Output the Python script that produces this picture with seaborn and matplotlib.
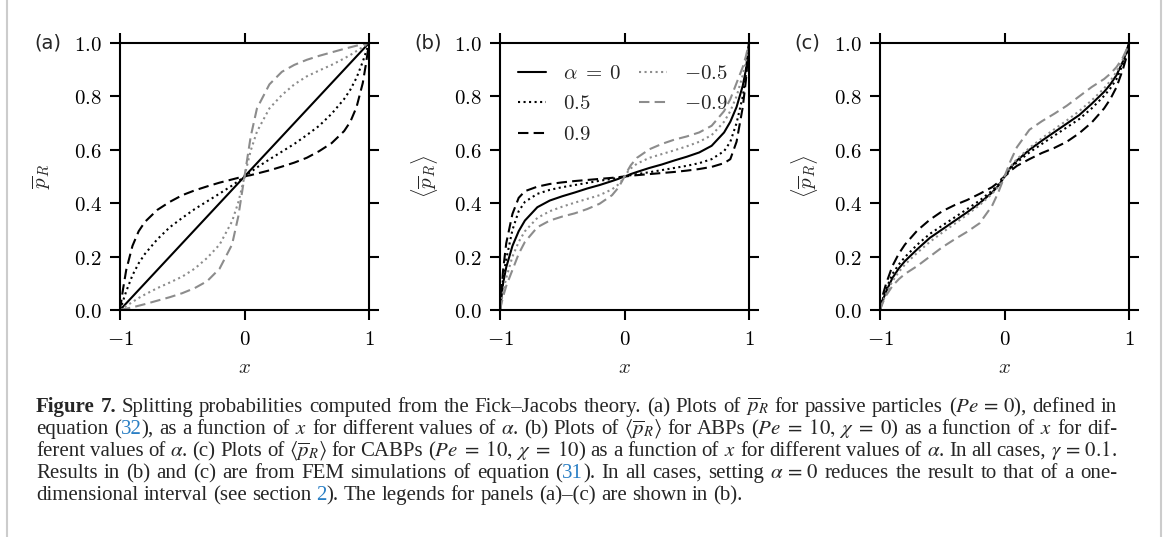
import re

import pandas as pd
import seaborn as sns
import matplotlib.pyplot as plt
from matplotlib.lines import Line2D

W, H, DPI = 1167, 537, 100
GREY = '#8c8c8c'
LINK_BLUE = '#2a7fc4'
CAP_SIZE = 15

# sample points along the channel
X_GRID = [-1, -0.975, -0.95, -0.9, -0.85, -0.8, -0.7, -0.6, -0.5, -0.4, -0.3,
          -0.2, -0.1, -0.05, -0.025, 0, 0.025, 0.05, 0.1, 0.2, 0.3, 0.4, 0.5,
          0.6, 0.7, 0.8, 0.85, 0.9, 0.95, 0.975, 1]

ALPHAS = [0, 0.5, 0.9, -0.5, -0.9]
LEGEND_LABELS = [r'$\alpha\;=\;0$', '$0.5$', '$0.9$', '$-0.5$', '$-0.9$']
LINE_COLORS = ['black', 'black', 'black', GREY, GREY]
LINE_STYLES = ['-', ':', (0, (5, 2.5)), ':', (0, (5, 2.5))]

# (a) passive particles
A_ALPHA_0 = [0, 0.0125, 0.025, 0.05, 0.075, 0.1, 0.15, 0.2, 0.25, 0.3, 0.35,
             0.4, 0.45, 0.475, 0.4875, 0.5, 0.5125, 0.525, 0.55, 0.6, 0.65,
             0.7, 0.75, 0.8, 0.85, 0.9, 0.925, 0.95, 0.975, 0.9875, 1]
A_ALPHA_05 = [0, 0.035, 0.07, 0.13, 0.175, 0.21, 0.265, 0.31, 0.345, 0.378,
              0.407, 0.436, 0.466, 0.483, 0.491, 0.5, 0.509, 0.517, 0.534,
              0.564, 0.593, 0.622, 0.655, 0.69, 0.735, 0.79, 0.825, 0.87,
              0.93, 0.965, 1]
A_ALPHA_09 = [0, 0.08, 0.15, 0.24, 0.295, 0.33, 0.375, 0.405, 0.43, 0.448,
              0.463, 0.477, 0.489, 0.495, 0.497, 0.5, 0.503, 0.505, 0.511,
              0.523, 0.537, 0.552, 0.57, 0.595, 0.625, 0.67, 0.705, 0.76,
              0.85, 0.92, 1]
A_ALPHA_M05 = [0, 0.008, 0.015, 0.03, 0.045, 0.058, 0.082, 0.103, 0.125,
               0.155, 0.195, 0.245, 0.332, 0.403, 0.45, 0.5, 0.55, 0.597,
               0.668, 0.755, 0.805, 0.845, 0.875, 0.897, 0.918, 0.942, 0.955,
               0.97, 0.985, 0.992, 1]
A_ALPHA_M09 = [0, 0.003, 0.005, 0.01, 0.016, 0.022, 0.035, 0.048, 0.063,
               0.082, 0.108, 0.155, 0.245, 0.35, 0.425, 0.5, 0.575, 0.65,
               0.755, 0.845, 0.892, 0.918, 0.937, 0.952, 0.965, 0.978, 0.984,
               0.99, 0.995, 0.997, 1]

# (b) ABPs, Pe = 10, chi = 0
B_ALPHA_0 = [0, 0.1, 0.16, 0.24, 0.295, 0.335, 0.385, 0.41, 0.426, 0.44,
             0.455, 0.468, 0.483, 0.491, 0.496, 0.5, 0.504, 0.509, 0.517,
             0.532, 0.545, 0.56, 0.574, 0.59, 0.615, 0.665, 0.705, 0.76,
             0.84, 0.9, 1]
B_ALPHA_05 = [0, 0.12, 0.19, 0.3, 0.37, 0.405, 0.435, 0.45, 0.46, 0.468,
              0.476, 0.484, 0.491, 0.495, 0.498, 0.5, 0.502, 0.505, 0.509,
              0.516, 0.524, 0.532, 0.54, 0.55, 0.565, 0.595, 0.63, 0.7,
              0.8, 0.88, 1]
B_ALPHA_09 = [0, 0.15, 0.25, 0.36, 0.42, 0.445, 0.462, 0.472, 0.478, 0.483,
              0.487, 0.491, 0.495, 0.497, 0.499, 0.5, 0.501, 0.503, 0.505,
              0.509, 0.513, 0.517, 0.522, 0.528, 0.536, 0.55, 0.565, 0.63,
              0.76, 0.86, 1]
B_ALPHA_M05 = [0, 0.07, 0.12, 0.2, 0.255, 0.295, 0.345, 0.37, 0.387, 0.402,
               0.416, 0.43, 0.452, 0.47, 0.483, 0.5, 0.517, 0.53, 0.548,
               0.57, 0.584, 0.598, 0.613, 0.63, 0.655, 0.705, 0.745, 0.8,
               0.88, 0.93, 1]
B_ALPHA_M09 = [0, 0.05, 0.09, 0.15, 0.21, 0.255, 0.31, 0.335, 0.35, 0.362,
               0.378, 0.398, 0.43, 0.458, 0.478, 0.5, 0.522, 0.542, 0.57,
               0.602, 0.622, 0.638, 0.65, 0.665, 0.69, 0.745, 0.79, 0.85,
               0.91, 0.95, 1]

# (c) CABPs, Pe = 10, chi = 10
C_ALPHA_0 = [0, 0.04, 0.07, 0.12, 0.155, 0.183, 0.228, 0.27, 0.302, 0.334,
             0.366, 0.4, 0.44, 0.465, 0.482, 0.5, 0.518, 0.535, 0.56, 0.6,
             0.634, 0.666, 0.698, 0.73, 0.772, 0.817, 0.845, 0.88, 0.93,
             0.96, 1]
C_ALPHA_05 = [0, 0.045, 0.08, 0.135, 0.17, 0.198, 0.245, 0.285, 0.316,
              0.347, 0.378, 0.41, 0.447, 0.47, 0.485, 0.5, 0.515, 0.53, 0.553,
              0.59, 0.622, 0.653, 0.684, 0.715, 0.755, 0.802, 0.83, 0.865,
              0.92, 0.955, 1]
C_ALPHA_09 = [0, 0.06, 0.1, 0.165, 0.21, 0.245, 0.298, 0.338, 0.37, 0.393,
              0.412, 0.435, 0.46, 0.478, 0.49, 0.5, 0.51, 0.522, 0.54, 0.565,
              0.588, 0.607, 0.63, 0.662, 0.702, 0.755, 0.79, 0.835, 0.9,
              0.94, 1]
C_ALPHA_M05 = [0, 0.035, 0.062, 0.108, 0.142, 0.17, 0.215, 0.255, 0.29,
               0.323, 0.357, 0.393, 0.435, 0.462, 0.48, 0.5, 0.52, 0.538,
               0.565, 0.607, 0.643, 0.677, 0.71, 0.745, 0.785, 0.83, 0.858,
               0.892, 0.938, 0.965, 1]
C_ALPHA_M09 = [0, 0.03, 0.055, 0.09, 0.115, 0.135, 0.165, 0.2, 0.235, 0.265,
               0.293, 0.325, 0.39, 0.44, 0.47, 0.5, 0.53, 0.56, 0.61, 0.675,
               0.707, 0.735, 0.765, 0.8, 0.835, 0.865, 0.885, 0.91, 0.945,
               0.97, 1]

X_TICKS = [-1, 0, 1]
X_TICK_LABELS = ['$-1$', '$0$', '$1$']
Y_TICKS = [0, 0.2, 0.4, 0.6, 0.8, 1.0]
Y_TICK_LABELS = ['$0.0$', '$0.2$', '$0.4$', '$0.6$', '$0.8$', '$1.0$']

PANELS = [
    ('(a)', r'$\overline{p}_R$',
     [A_ALPHA_0, A_ALPHA_05, A_ALPHA_09, A_ALPHA_M05, A_ALPHA_M09]),
    ('(b)', r'$\langle\overline{p}_R\rangle$',
     [B_ALPHA_0, B_ALPHA_05, B_ALPHA_09, B_ALPHA_M05, B_ALPHA_M09]),
    ('(c)', r'$\langle\overline{p}_R\rangle$',
     [C_ALPHA_0, C_ALPHA_05, C_ALPHA_09, C_ALPHA_M05, C_ALPHA_M09]),
]

CAPTION_LINES = [
    r'*Figure* *7.* Splitting probabilities computed from the Fick–Jacobs '
    r'theory. (a) Plots of $\overline{p}_R$ for passive particles '
    r'($Pe\,=\,0$), defined in',
    r'equation ([32]), as a function of $x$ for different values of '
    r'$\alpha$. (b) Plots of $\langle\overline{p}_R\rangle$ for ABPs '
    r'($Pe\;=\;10,\;\chi\;=\;0$) as a function of $x$ for dif-',
    r'ferent values of $\alpha$. (c) Plots of $\langle\overline{p}_R\rangle$ '
    r'for CABPs ($Pe\;=\;10,\;\chi\;=\;10$) as a function of $x$ for '
    r'different values of $\alpha$. In all cases, $\gamma\,=\,0.1$.',
    r'Results in (b) and (c) are from FEM simulations of equation ([31]). '
    r'In all cases, setting $\alpha\,=\,0$ reduces the result to that of a '
    r'one-',
    r'dimensional interval (see section [2]). The legends for panels '
    r'(a)–(c) are shown in (b).',
]

sns.set_theme(style='ticks', rc={
    'axes.linewidth': 1.5,
    'axes.edgecolor': 'black',
    'xtick.major.width': 1.5, 'ytick.major.width': 1.5,
    'xtick.major.size': 7, 'ytick.major.size': 7,
    'xtick.color': 'black', 'ytick.color': 'black',
})
plt.rcParams['font.family'] = ['DejaVu Sans']
plt.rcParams['mathtext.fontset'] = 'cm'

fig = plt.figure(figsize=(W / DPI, H / DPI), dpi=DPI)
fig.patch.set_facecolor('white')

AX_LEFT = [120, 500, 880]
AX_TOP, AX_BOTTOM, AX_WIDTH = 43, 310, 249

for i, (tag, ylabel, curves) in enumerate(PANELS):
    ax = fig.add_axes([AX_LEFT[i] / W, (H - AX_BOTTOM) / H, AX_WIDTH / W,
                       (AX_BOTTOM - AX_TOP) / H])
    df = pd.DataFrame({
        'x': X_GRID * len(ALPHAS),
        'p': [v for c in curves for v in c],
        'alpha': [a for a in ALPHAS for _ in X_GRID],
    })
    for alpha, col, ls, lab in zip(ALPHAS, LINE_COLORS, LINE_STYLES,
                                   LEGEND_LABELS):
        sns.lineplot(data=df[df['alpha'] == alpha], x='x', y='p', ax=ax,
                     color=col, linestyle=ls, linewidth=1.5, estimator=None,
                     sort=False, label=lab if i == 1 else None,
                     legend=False)

    ax.set_xlim(-1, 1)
    ax.set_ylim(0, 1)
    ax.set_xticks(X_TICKS, X_TICK_LABELS)
    ax.set_yticks(Y_TICKS, Y_TICK_LABELS)
    ax.tick_params(direction='out', top=True, right=True, labelsize=15)
    ax.tick_params(axis='y', pad=6)
    ax.tick_params(axis='x', pad=7)
    for sp in ax.spines.values():
        sp.set_visible(True)
        sp.set_linewidth(1.5)

    ax.set_xlabel('$x$', fontsize=15)
    ax.xaxis.label.set_va('center')
    ax.xaxis.set_label_coords(0.5, -0.213)
    ax.set_ylabel(ylabel, fontsize=15)
    ax.yaxis.set_label_coords(-0.27 if i == 0 else -0.24, 0.5)

    fig.text((AX_LEFT[i] - 86) / W, 1 - AX_TOP / H, tag, fontsize=14,
             ha='left', va='center', family='DejaVu Sans')

    if i == 1:
        ax.legend(ncol=2, frameon=False, loc='upper left',
                  bbox_to_anchor=(0.072, 0.925), fontsize=15,
                  handlelength=1.35, handletextpad=0.8, columnspacing=0.85,
                  labelspacing=0.5, borderpad=0, borderaxespad=0)
    elif ax.get_legend() is not None:
        ax.get_legend().remove()


# caption, set word by word so the lines can be justified
def split_words(line):
    words, cur, in_math = [], '', False
    for ch in line:
        if ch == '$':
            in_math = not in_math
        if ch == ' ' and not in_math:
            if cur:
                words.append(cur)
            cur = ''
        else:
            cur += ch
    if cur:
        words.append(cur)
    return words


CAP_LEFT, CAP_RIGHT = 36, 1117
CAP_BASE = [412, 434, 456, 478, 500]
renderer = fig.canvas.get_renderer()

for n, line in enumerate(CAPTION_LINES):
    words = []
    for w in split_words(line):
        parts = []
        for seg in re.split(r'(\*[^*]+\*|\[[^\]]+\])', w):
            if not seg:
                continue
            kw = dict(fontsize=CAP_SIZE, family='Liberation Serif',
                      math_fontfamily='stix', va='baseline', ha='left')
            if seg[0] == '*':
                seg, kw['fontweight'] = seg[1:-1], 'bold'
            elif seg[0] == '[':
                seg, kw['color'] = seg[1:-1], LINK_BLUE
            t = fig.text(0, 1 - CAP_BASE[n] / H, seg, **kw)
            parts.append((t, t.get_window_extent(renderer).width))
        words.append(parts)
    total = sum(wd for parts in words for _, wd in parts)
    if n < len(CAPTION_LINES) - 1:
        gap = (CAP_RIGHT - CAP_LEFT - total) / (len(words) - 1)
    else:
        gap = CAP_SIZE * 0.25 * DPI / 72
    x = CAP_LEFT
    for parts in words:
        for t, wd in parts:
            t.set_x(x / W)
            x += wd
        x += gap

# page borders of the screenshot
for xp in (7, 1160.5):
    fig.add_artist(Line2D([xp / W, xp / W], [0, 1], transform=fig.transFigure,
                          color='#cccccc', linewidth=1.5))

fig.savefig('out.png', dpi=DPI, facecolor='white')
